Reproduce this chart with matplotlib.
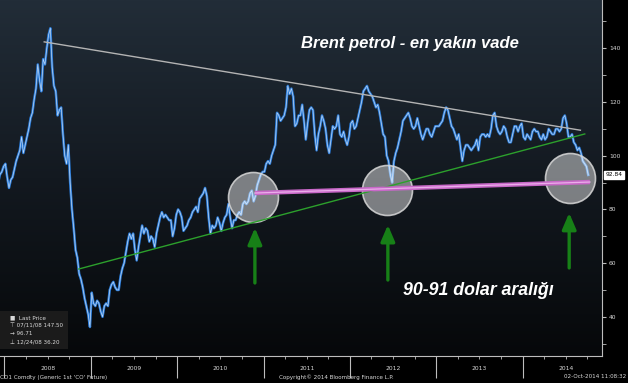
import numpy as np
import matplotlib
matplotlib.use("Agg")
import matplotlib.pyplot as plt
from matplotlib.colors import LinearSegmentedColormap
from matplotlib.patches import Rectangle

# Brent front month, roughly weekly closes (4 per month)
brent_2007 = [90, 93, 94, 96]  # December only
brent_2008 = [97, 92, 88, 91, 92, 95, 98, 100, 102, 107, 101, 104,
              107, 110, 114, 116, 121, 125, 134, 128, 124, 136, 134, 140,
              145, 147.5, 133, 126, 124, 115, 117, 118, 108, 100, 97, 104,
              90, 80, 73, 65, 62, 56, 54, 51, 47, 44, 41, 36.2]
brent_2009 = [49, 45, 44, 46, 45, 42, 40, 44, 45, 44, 50, 52,
              53, 51, 50, 50, 55, 58, 60, 64, 68, 71, 69, 71,
              65, 61, 66, 70, 74, 71, 73, 72, 68, 70, 69, 66,
              71, 74, 77, 79, 77, 78, 77, 76, 76, 70, 73, 78]
brent_2010 = [80, 79, 77, 72, 73, 74, 76, 77, 79, 80, 81, 79,
              84, 85, 86, 88, 85, 77, 71, 74, 73, 74, 77, 75,
              72, 75, 77, 78, 82, 77, 73, 76, 76, 78, 79, 78,
              82, 83, 82, 83, 86, 87, 83, 85, 89, 91, 93, 94]
brent_2011 = [94, 97, 98, 97, 100, 102, 104, 116, 115, 113, 114, 115,
              118, 126, 123, 125, 122, 111, 112, 115, 115, 119, 113, 106,
              112, 117, 118, 117, 108, 102, 108, 111, 115, 113, 110, 104,
              101, 106, 111, 110, 111, 115, 108, 107, 109, 106, 104, 107]
brent_2012 = [112, 113, 110, 111, 114, 117, 120, 124, 125, 126, 124, 123,
              122, 120, 118, 119, 116, 112, 108, 107, 100, 98, 93, 90,
              98, 101, 103, 106, 109, 113, 114, 115, 116, 114, 111, 110,
              111, 114, 111, 108, 106, 108, 110, 110, 108, 107, 109, 111]
brent_2013 = [111, 111, 112, 113, 116, 118, 117, 114, 111, 110, 108, 106,
              108, 103, 98, 102, 104, 104, 103, 102, 103, 104, 106, 102,
              107, 108, 108, 107, 108, 107, 110, 115, 116, 111, 109, 108,
              109, 111, 110, 107, 105, 105, 108, 111, 111, 109, 111, 112]
brent_2014 = [107, 106, 108, 107, 106, 109, 110, 109, 109, 107, 106, 108,
              106, 107, 110, 109, 108, 108, 110, 110, 109, 110, 114, 115,
              112, 107, 107, 108, 105, 104, 102, 103, 101, 98, 97, 96, 92.84]

series = {2007: brent_2007, 2008: brent_2008, 2009: brent_2009, 2010: brent_2010,
          2011: brent_2011, 2012: brent_2012, 2013: brent_2013, 2014: brent_2014}

years = [2008, 2009, 2010, 2011, 2012, 2013, 2014]
y_ticks = [40, 60, 80, 100, 120, 140]

# annotation lines (decimal year, price)
resist_x, resist_y = [2008.46, 2014.67], [142.4, 109.5]
support_x, support_y = [2008.86, 2014.72], [57.8, 108.1]
band_x, band_y = [2010.90, 2014.78], [86.1, 90.2]
circle_x, circle_y = [2010.88, 2012.43, 2014.55], [84.7, 87.2, 91.6]
arrow_x = [2010.90, 2012.44, 2014.54]
arrow_tip = [73.1, 74.2, 78.7]
arrow_tail = [52.6, 53.7, 58.2]

# decimal-year positions for the weekly values
xs, ys = [], []
for yr, vals in series.items():
    offset = 44 if yr == 2007 else 0
    for i, v in enumerate(vals):
        xs.append(yr + (offset + i + 0.5) / 48)
        ys.append(v)

fig = plt.figure(figsize=(6.28, 3.83), dpi=100, facecolor="black")
ax = fig.add_axes([0, 1 - 356 / 383, 602 / 628, 356 / 383])

# dark gradient background
cmap = LinearSegmentedColormap.from_list("bg", ["#06080a", "#131920", "#222d38"])
grad = np.linspace(0, 1, 256).reshape(-1, 1)
ax.imshow(grad, extent=[0, 1, 0, 1], transform=ax.transAxes, aspect="auto",
          cmap=cmap, origin="lower", zorder=0)

ax.plot(xs, ys, color="#2a7bd8", lw=1.8, zorder=2)
ax.plot(xs, ys, color="white", lw=0.5, alpha=0.7, zorder=2)

ax.scatter(circle_x, circle_y, s=1296, facecolor=(1, 1, 1, 0.45),
           edgecolor=(0.85, 0.85, 0.85, 0.85), linewidth=1.2, zorder=3)

ax.plot(resist_x, resist_y, color="#b4b4b4", lw=1.0, zorder=4)
ax.plot(support_x, support_y, color="#2ca02c", lw=1.0, zorder=4)
ax.plot(band_x, band_y, color="#c868c8", lw=3.2, zorder=5, solid_capstyle="butt")
ax.plot(band_x, band_y, color="#eaaeea", lw=0.9, zorder=5)

for x, tip, tail in zip(arrow_x, arrow_tip, arrow_tail):
    ax.annotate("", xy=(x, tip), xytext=(x, tail), zorder=5,
                arrowprops=dict(arrowstyle="-|>,head_length=0.7,head_width=0.3",
                                color="#178017", lw=2.4, mutation_scale=14,
                                shrinkA=0, shrinkB=0))

ax.text(0.681, 0.879, "Brent petrol - en yakın vade", transform=ax.transAxes,
        ha="center", va="center", color="white", fontsize=12,
        family="Liberation Sans", weight="bold", style="italic")
ax.text(0.795, 0.183, "90-91 dolar aralığı", transform=ax.transAxes,
        ha="center", va="center", color="white", fontsize=12.8,
        family="Liberation Sans", weight="bold", style="italic")

ax.set_xlim(2007.948, 2014.92)
ax.set_ylim(25.4, 158)

for s in ["top", "left"]:
    ax.spines[s].set_visible(False)
for s in ["right", "bottom"]:
    ax.spines[s].set_color("#bdbdbd")
    ax.spines[s].set_linewidth(0.8)

ax.yaxis.tick_right()
ax.set_yticks(y_ticks)
ax.set_yticks(range(30, 160, 10), minor=True)
ax.tick_params(axis="y", which="both", length=3, color="#bdbdbd",
               labelcolor="#d8d8d8", labelsize=4.3, pad=2)
ax.set_xticks(years)
ax.set_xticks(np.arange(2008, 2015, 0.25), minor=True)
ax.tick_params(axis="x", which="major", length=16, width=0.8, color="#bdbdbd",
               labelbottom=False)
ax.tick_params(axis="x", which="minor", length=2, color="#bdbdbd")

for yr in years:
    ax.text(yr + 0.5, -0.035, str(yr), transform=ax.get_xaxis_transform(),
            ha="center", va="center", color="#d8d8d8", fontsize=4.3)

# last price tag
ax.text(1.006, 92.84, "92.84", transform=ax.get_yaxis_transform(), ha="left",
        va="center", fontsize=4.3, color="black", clip_on=False,
        bbox=dict(boxstyle="square,pad=0.25", fc="white", ec="white"))

# legend box
ax.add_patch(Rectangle((0, 0.02), 68 / 602, 0.106, transform=ax.transAxes,
                       facecolor="#1b1b1b", edgecolor="none", zorder=6))
leg_lines = [("■  Last Price", 0.107, 10), ("⊤ 07/11/08 147.50", 0.085, 10),
             ("→ 96.71", 0.064, 10), ("⊥ 12/24/08 36.20", 0.039, 10)]
for txt, yy, xx in leg_lines:
    ax.text(xx / 602, yy, txt, transform=ax.transAxes, ha="left", va="center",
            fontsize=4.1, color="#d8d8d8", zorder=7)

fig.text(0.0, 1 - 377 / 383, "CO1 Comdty (Generic 1st 'CO' Future)", ha="left",
         va="center", fontsize=4.1, color="#d8d8d8")
fig.text(336 / 628, 1 - 377 / 383, "Copyright© 2014 Bloomberg Finance L.P.",
         ha="center", va="center", fontsize=4.1, color="#d8d8d8")
fig.text(0.997, 1 - 377 / 383, "02-Oct-2014 11:08:32", ha="right", va="center",
         fontsize=4.1, color="#d8d8d8")

fig.savefig("out.png", dpi=100, facecolor="black")
